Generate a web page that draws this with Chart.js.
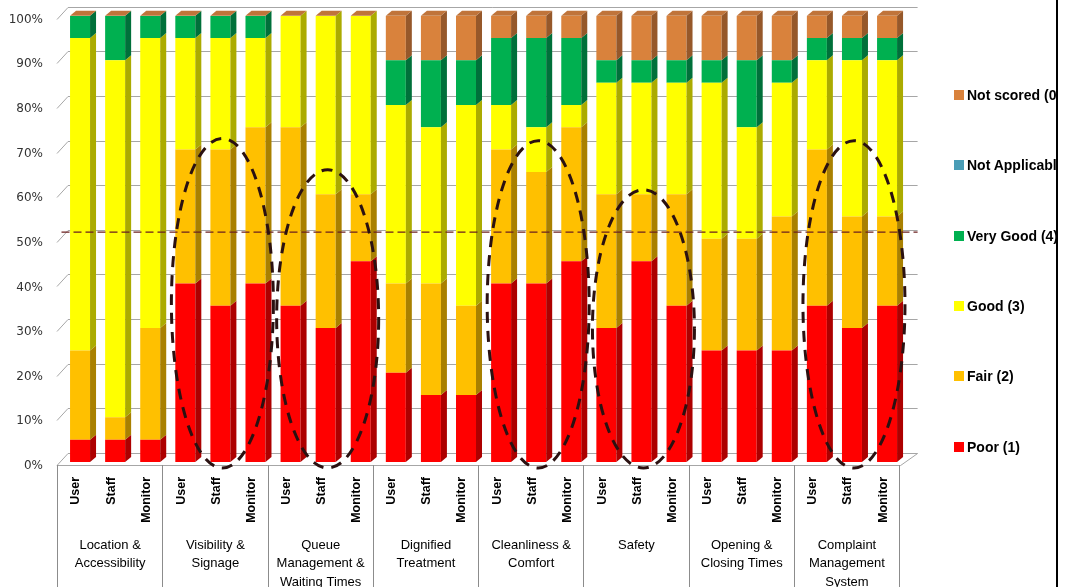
<!DOCTYPE html>
<html>
<head>
<meta charset="utf-8">
<script src="https://cdn.jsdelivr.net/npm/chart.js@4.4.1/dist/chart.umd.min.js"></script>
<style>
  html, body { margin: 0; padding: 0; background: #fff; }
  #frame { position: relative; width: 1065px; height: 587px; overflow: hidden; background: #fff; }
  #chart { position: absolute; left: 0; top: 0; }
  #legend { position: absolute; left: 954px; top: 0; width: 102px; height: 587px; overflow: hidden;
            font: bold 14px "Liberation Sans", Arial, sans-serif; color: #000; }
  .item { position: absolute; left: 0; height: 16px; display: flex; align-items: center; white-space: nowrap; }
  .swatch { width: 10px; height: 10px; margin-right: 3px; flex: none; }
  #edge { position: absolute; left: 1056px; top: 0; width: 2px; height: 587px; background: #000; }
</style>
</head>
<body>
<div id="frame">
  <canvas id="chart" width="1065" height="587"></canvas>
  <div id="legend"></div>
  <div id="edge"></div>
</div>
<script>
// Respondent groups and assessed service areas
const respondents = ['User', 'Staff', 'Monitor'];
const areas = [
  ['Location &', 'Accessibility'],
  ['Visibility &', 'Signage'],
  ['Queue', 'Management &', 'Waiting Times'],
  ['Dignified', 'Treatment'],
  ['Cleanliness &', 'Comfort'],
  ['Safety'],
  ['Opening &', 'Closing Times'],
  ['Complaint', 'Management', 'System']
];

// Share of ratings (%) per area x respondent, in the order User, Staff, Monitor
const poor          = [5, 5, 5,   40, 35, 40,  35, 30, 45,  20, 15, 15,  40, 40, 45,  30, 45, 35,  25, 25, 25,  35, 30, 35];
const fair          = [20, 5, 25, 30, 35, 35,  40, 30, 15,  20, 25, 20,  30, 25, 30,  30, 15, 25,  25, 25, 30,  35, 25, 20];
const good          = [70, 80, 65, 25, 25, 20, 25, 40, 40,  40, 35, 45,  10, 10, 5,   25, 25, 25,  35, 25, 30,  20, 35, 35];
const veryGood      = [5, 10, 5,  5, 5, 5,     0, 0, 0,     10, 15, 10,  15, 20, 15,  5, 5, 5,     5, 15, 5,    5, 5, 5];
const notApplicable = [0, 0, 0,   0, 0, 0,     0, 0, 0,     0, 0, 0,     0, 0, 0,     0, 0, 0,     0, 0, 0,     0, 0, 0];
const notScored     = [0, 0, 0,   0, 0, 0,     0, 0, 0,     10, 10, 10,  5, 5, 5,     10, 10, 10,  10, 10, 10,  5, 5, 5];

const seriesNames = ['Poor (1)', 'Fair (2)', 'Good (3)', 'Very Good (4)', 'Not Applicable', 'Not scored (0)'];
const yTicks = [0, 10, 20, 30, 40, 50, 60, 70, 80, 90, 100];

// Reference level and the areas circled for the staff view
const benchmark = 51.5;
const highlightAreas = [1, 2, 4, 5, 7];
const highlightTops = [72.5, 65.5, 72, 61, 72];

const frontColors = ['#ff0000', '#ffc000', '#ffff00', '#00b050', '#4a9db6', '#d9823c'];
const sideColors  = ['#ad0000', '#a98000', '#abab00', '#00703a', '#2f6c7d', '#96582a'];
const capColor = '#c0743a';
const DX = 6, DY = 5;

const labels = [];
areas.forEach(() => respondents.forEach(r => labels.push(r)));
const values = [poor, fair, good, veryGood, notApplicable, notScored];

// Back wall, floor and gridlines in a shallow 3-D style
const wallPlugin = {
  id: 'wall3d',
  beforeDatasetsDraw(chart) {
    const { ctx, chartArea: a, scales: { y } } = chart;
    const fl = a.left - 5.5, bl = a.left + 5.5, br = a.right + 13;
    ctx.save();
    ctx.strokeStyle = '#a6a6a6';
    ctx.lineWidth = 1;
    yTicks.forEach(v => {
      const yb = Math.round(y.getPixelForValue(v) - 9) + 0.5;
      ctx.beginPath();
      ctx.moveTo(fl, yb + 12);
      ctx.lineTo(bl, yb);
      ctx.lineTo(br, yb);
      ctx.stroke();
    });
    const yf = Math.round(y.getPixelForValue(0) + 3) + 0.5;
    const y0b = Math.round(y.getPixelForValue(0) - 9) + 0.5;
    ctx.beginPath();
    ctx.moveTo(fl, yf);
    ctx.lineTo(a.right - 4, yf);
    ctx.lineTo(br, y0b);
    ctx.stroke();
    ctx.restore();
  }
};

// Side faces and top caps of the columns, then the annotations
const depthPlugin = {
  id: 'depth',
  afterDatasetsDraw(chart) {
    const { ctx, chartArea: a, scales: { x, y } } = chart;
    ctx.save();
    chart.data.datasets.forEach((ds, i) => {
      chart.getDatasetMeta(i).data.forEach(bar => {
        const top = Math.min(bar.y, bar.base), bot = Math.max(bar.y, bar.base);
        if (bot - top < 0.5) return;
        const r = bar.x + bar.width / 2;
        ctx.fillStyle = sideColors[i];
        ctx.beginPath();
        ctx.moveTo(r, top);
        ctx.lineTo(r + DX, top - DY);
        ctx.lineTo(r + DX, bot - DY);
        ctx.lineTo(r, bot);
        ctx.closePath();
        ctx.fill();
      });
    });
    const last = chart.getDatasetMeta(chart.data.datasets.length - 1);
    last.data.forEach(bar => {
      const l = bar.x - bar.width / 2, r = bar.x + bar.width / 2, t = bar.y;
      ctx.fillStyle = capColor;
      ctx.beginPath();
      ctx.moveTo(l, t);
      ctx.lineTo(l + DX, t - DY);
      ctx.lineTo(r + DX, t - DY);
      ctx.lineTo(r, t);
      ctx.closePath();
      ctx.fill();
    });

    // benchmark line
    const yb = y.getPixelForValue(benchmark);
    ctx.strokeStyle = '#6b1f1f';
    ctx.lineWidth = 1.3;
    ctx.setLineDash([8, 4]);
    ctx.beginPath();
    ctx.moveTo(a.left - 1, yb);
    ctx.lineTo(a.right + 13, yb);
    ctx.stroke();

    // circled staff columns
    ctx.strokeStyle = '#2b1111';
    ctx.lineWidth = 3;
    ctx.setLineDash([11, 8]);
    highlightAreas.forEach((g, k) => {
      const cx = x.getPixelForValue(g * 3 + 1) + 2;
      const top = y.getPixelForValue(highlightTops[k]);
      const bottom = y.getPixelForValue(0) + 6;
      ctx.beginPath();
      ctx.ellipse(cx, (top + bottom) / 2, 51, (bottom - top) / 2, 0, 0, Math.PI * 2);
      ctx.stroke();
    });
    ctx.restore();
  },
  afterDraw(chart) {
    const { ctx, scales: { x, y } } = chart;
    const slot = x.getPixelForValue(1) - x.getPixelForValue(0);
    const yf = Math.round(y.getPixelForValue(0) + 3);
    const bottom = chart.height;
    ctx.save();
    ctx.strokeStyle = '#8c8c8c';
    ctx.lineWidth = 1;
    ctx.fillStyle = '#000';
    ctx.font = '13px "Liberation Sans", Arial, sans-serif';
    ctx.textAlign = 'center';
    ctx.textBaseline = 'middle';
    areas.forEach((lines, g) => {
      const left = x.getPixelForValue(g * 3) - slot / 2 - 5.5;
      const lx = Math.round(left) + 0.5;
      ctx.beginPath();
      ctx.moveTo(lx, yf);
      ctx.lineTo(lx, bottom);
      ctx.stroke();
      const cx = left + slot * 1.5 + 0.5;
      lines.forEach((t, j) => ctx.fillText(t, cx, yf + 80 + j * 18.5));
      if (g === areas.length - 1) {
        const rx = Math.round(left + slot * 3) + 0.5;
        ctx.beginPath();
        ctx.moveTo(rx, yf);
        ctx.lineTo(rx, bottom);
        ctx.stroke();
      }
    });
    ctx.restore();
  }
};

const chart = new Chart(document.getElementById('chart'), {
  type: 'bar',
  data: {
    labels,
    datasets: values.map((d, i) => ({
      label: seriesNames[i],
      data: d,
      backgroundColor: frontColors[i],
      borderWidth: 0,
      categoryPercentage: 1,
      barPercentage: 0.57
    }))
  },
  options: {
    responsive: false,
    animation: false,
    devicePixelRatio: 1,
    layout: { padding: { top: 15.7, right: 160.4, left: 0, bottom: 0 } },
    plugins: { legend: { display: false }, tooltip: { enabled: false } },
    scales: {
      x: {
        stacked: true,
        grid: { display: false, drawTicks: false },
        border: { display: false },
        ticks: {
          autoSkip: false, minRotation: 90, maxRotation: 90, padding: 15, labelOffset: -4,
          color: '#000', font: { family: '"Liberation Sans", Arial, sans-serif', weight: 'bold', size: 12.5 }
        },
        afterFit: s => { s.height = 125; s.paddingLeft = 0; s.paddingRight = 0; }
      },
      y: {
        stacked: true,
        min: 0, max: 100,
        grid: { display: false, drawTicks: false },
        border: { display: false },
        ticks: {
          stepSize: 10, padding: 19.5, labelOffset: 4, color: '#333',
          font: { family: '"DejaVu Sans", Verdana, sans-serif', size: 12 },
          callback: v => v + '%'
        },
        afterFit: s => { s.width = 62.5; s.paddingTop = 0; s.paddingBottom = 0; }
      }
    }
  },
  plugins: [wallPlugin, depthPlugin]
});

// Legend, listed from the top series down
const legend = document.getElementById('legend');
const order = seriesNames.map((n, i) => i).reverse();
order.forEach((i, k) => {
  const item = document.createElement('div');
  item.className = 'item';
  item.style.top = (94.7 + k * 70.4 - 8) + 'px';
  const sw = document.createElement('span');
  sw.className = 'swatch';
  sw.style.background = frontColors[i];
  const tx = document.createElement('span');
  tx.textContent = seriesNames[i];
  item.appendChild(sw);
  item.appendChild(tx);
  legend.appendChild(item);
});
</script>
</body>
</html>
